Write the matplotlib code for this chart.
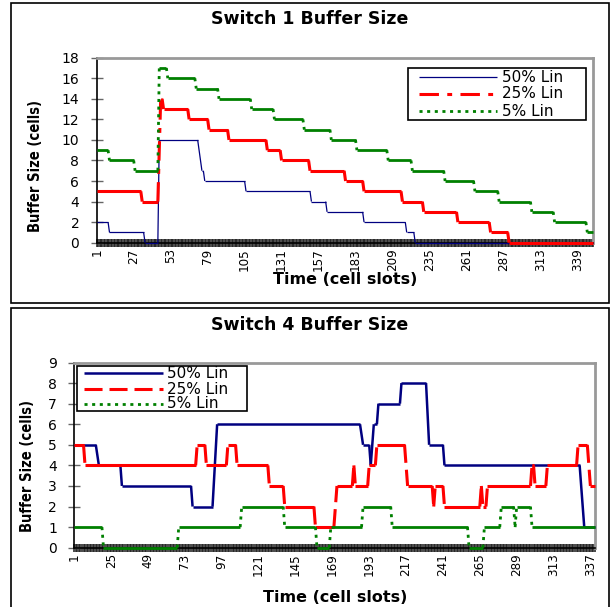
import matplotlib
matplotlib.use("Agg")
import matplotlib.pyplot as plt
from matplotlib.collections import LineCollection
from matplotlib.patches import Rectangle
from matplotlib.lines import Line2D

plt.rcParams['lines.scale_dashes'] = False

W, H = 613, 607

# Switch 1: time slot / buffer size at each change of level
s1_slots = 350
s1_t50 = [1, 9, 10, 34, 35, 44, 45, 72, 75, 76, 77, 105, 106, 151, 152, 162, 163,
          188, 189, 218, 219, 224, 225, 350]
s1_v50 = [2, 2, 1, 1, 0, 0, 10, 10, 7, 7, 6, 6, 5, 5, 4, 4, 3, 3, 2, 2, 1, 1, 0, 0]
s1_t25 = [1, 32, 33, 44, 46, 47, 48, 65, 66, 79, 80, 93, 94, 120, 121, 130, 131,
          150, 151, 175, 176, 188, 189, 215, 216, 230, 231, 254, 255, 277, 278,
          290, 291, 350]
s1_v25 = [5, 5, 4, 4, 14, 14, 13, 13, 12, 12, 11, 11, 10, 10, 9, 9, 8, 8, 7, 7,
          6, 6, 5, 5, 4, 4, 3, 3, 2, 2, 1, 1, 0, 0]
s1_t5 = [1, 9, 10, 27, 28, 44, 45, 50, 51, 70, 71, 86, 87, 109, 110, 125, 126,
         146, 147, 165, 166, 183, 184, 205, 206, 222, 223, 245, 246, 266, 267,
         283, 284, 306, 307, 322, 323, 345, 346, 350]
s1_v5 = [9, 9, 8, 8, 7, 7, 17, 17, 16, 16, 15, 15, 14, 14, 13, 13, 12, 12, 11, 11,
         10, 10, 9, 9, 8, 8, 7, 7, 6, 6, 5, 5, 4, 4, 3, 3, 2, 2, 1, 1]
s1_xticks = list(range(1, 340, 26))

# Switch 4
s4_slots = 340
s4_t50 = [1, 15, 17, 31, 32, 77, 78, 91, 94, 187, 189, 193, 194, 196, 198, 199,
          213, 214, 230, 232, 241, 242, 330, 333, 340]
s4_v50 = [5, 5, 4, 4, 3, 3, 2, 2, 6, 6, 5, 5, 4, 6, 6, 7, 7, 8, 8, 5, 5, 4, 4, 1, 1]
s4_t25 = [1, 7, 8, 80, 81, 86, 87, 100, 101, 106, 107, 127, 128, 137, 138, 157,
          158, 170, 172, 182, 183, 184, 192, 193, 197, 198, 216, 218, 234, 235,
          236, 241, 242, 265, 266, 267, 269, 270, 298, 299, 300, 301, 308, 309,
          328, 329, 335, 337, 340]
s4_v25 = [5, 5, 4, 4, 5, 5, 4, 4, 5, 5, 4, 4, 3, 3, 2, 2, 1, 1, 3, 3, 4, 3, 3, 4,
          4, 5, 5, 3, 3, 2, 3, 3, 2, 2, 3, 2, 2, 3, 3, 4, 4, 3, 3, 4, 4, 5, 5, 3, 3]
s4_t5 = [1, 19, 20, 68, 69, 109, 110, 137, 138, 158, 159, 167, 168, 188, 189, 207,
         208, 257, 258, 267, 268, 278, 279, 287, 288, 289, 298, 299, 340]
s4_v5 = [1, 1, 0, 0, 1, 1, 2, 2, 1, 1, 0, 0, 1, 1, 2, 2, 1, 1, 0, 0, 1, 1, 2, 2,
         1, 2, 2, 1, 1]
s4_xticks = list(range(1, 340, 24))

labels = ['50% Lin', '25% Lin', '5% Lin']
NAVY, RED, GREEN = '#000080', '#ff0000', '#008000'


def fx(px):
    return px / W


def fy(py):
    return 1 - py / H


def draw_series(ax, t, v, color, lw, dash):
    # Excel restarts the dash pattern on every segment, so flat runs look solid
    segs, styles = [], []
    for i in range(len(t) - 1):
        segs.append([(t[i], v[i]), (t[i + 1], v[i + 1])])
        styles.append('solid' if v[i] == v[i + 1] else dash)
    lc = LineCollection(segs, colors=color, linewidths=lw, linestyles=styles,
                        capstyle='butt', clip_on=False, zorder=3)
    ax.add_collection(lc)


def setup_axes(rect, nslots, ymax, ystep, xticks):
    ax = fig.add_axes(rect)
    ax.set_xlim(1, nslots)
    ax.set_ylim(0, ymax)
    ax.set_xticks(xticks)
    ax.set_xticks(range(1, nslots + 1), minor=True)
    ax.set_xticklabels([str(x) for x in xticks], rotation=90, fontsize=9.5,
                       fontstretch='condensed', va='top', ha='center')
    ax.set_yticks(range(0, ymax + 1, ystep))
    ax.tick_params(axis='x', which='both', direction='inout', length=6,
                   width=1.15, color='#222222', pad=1)
    ax.tick_params(axis='y', direction='inout', length=9, width=1,
                   color='#666666', labelsize=10, pad=8)
    for s in ['left', 'bottom']:
        ax.spines[s].set_color('black')
        ax.spines[s].set_linewidth(1.2)
    for s in ['top', 'right']:
        ax.spines[s].set_color('#999999')
        ax.spines[s].set_linewidth(2)
    return ax


def draw_legend(box, rows, styles, line_x, text_x):
    x0, y0, x1, y1 = box
    fig.add_artist(Rectangle((fx(x0), fy(y1)), fx(x1) - fx(x0), fy(y0) - fy(y1),
                             transform=fig.transFigure, facecolor='white',
                             edgecolor='black', lw=1.2, zorder=5))
    for ry, lab, (color, lw, dash) in zip(rows, labels, styles):
        fig.add_artist(Line2D([fx(line_x[0]), fx(line_x[1])], [fy(ry), fy(ry)],
                              color=color, lw=lw, linestyle=dash,
                              solid_capstyle='butt', dash_capstyle='butt',
                              transform=fig.transFigure, zorder=6))
        fig.text(fx(text_x), fy(ry), lab, fontsize=11, ha='left',
                 va='center', zorder=7)


fig = plt.figure(figsize=(W / 100, H / 100), dpi=100)

# panel frames
for (x0, y0, x1, y1) in [(11, 3, 609, 303), (11, 308, 609, 612)]:
    fig.add_artist(Rectangle((fx(x0), fy(y1)), fx(x1) - fx(x0), fy(y0) - fy(y1),
                             transform=fig.transFigure, fill=False,
                             edgecolor='black', lw=1.2))

# ---- Switch 1 ----
dash_dot = (0, (14, 6, 3.5, 6))
dots = (0, (2.2, 3.3))
st1 = [(NAVY, 0.9, 'solid'), (RED, 2.2, dash_dot), (GREEN, 2.0, dots)]
ax1 = setup_axes([fx(96.7), fy(242.7), (593 - 96.7) / W, (242.7 - 57.7) / H],
                 s1_slots, 18, 2, s1_xticks)
for (t, v), (c, lw, d) in zip([(s1_t50, s1_v50), (s1_t25, s1_v25), (s1_t5, s1_v5)], st1):
    draw_series(ax1, t, v, c, lw, d)
fig.text(fx(310), fy(19), 'Switch 1 Buffer Size', fontsize=12.5,
         fontweight='bold', ha='center', va='center')
fig.text(fx(345), fy(280), 'Time (cell slots)', fontsize=11.5,
         fontweight='bold', ha='center', va='center')
fig.text(fx(36), fy(166), 'Buffer Size (cells)', fontsize=10.5,
         fontstretch='condensed', fontweight='bold', rotation=90,
         ha='center', va='center')
draw_legend((408, 68, 586, 120), [77, 94, 111], st1, (419, 497), 502)

# ---- Switch 4 ----
long_dash = (0, (13, 5))
st4 = [(NAVY, 1.8, 'solid'), (RED, 2.2, long_dash), (GREEN, 2.0, dots)]
ax4 = setup_axes([fx(74.3), fy(547.7), (595 - 74.3) / W, (547.7 - 362.5) / H],
                 s4_slots, 9, 1, s4_xticks)
for (t, v), (c, lw, d) in zip([(s4_t50, s4_v50), (s4_t25, s4_v25), (s4_t5, s4_v5)], st4):
    draw_series(ax4, t, v, c, lw, d)
fig.text(fx(310), fy(325), 'Switch 4 Buffer Size', fontsize=12.5,
         fontweight='bold', ha='center', va='center')
fig.text(fx(335), fy(597), 'Time (cell slots)', fontsize=11.5,
         fontweight='bold', ha='center', va='center')
fig.text(fx(28), fy(466), 'Buffer Size (cells)', fontsize=10.5,
         fontstretch='condensed', fontweight='bold', rotation=90,
         ha='center', va='center')
draw_legend((77, 366, 247, 411), [373, 389, 404], st4, (84, 163), 167)

fig.savefig('out.png', dpi=100)
